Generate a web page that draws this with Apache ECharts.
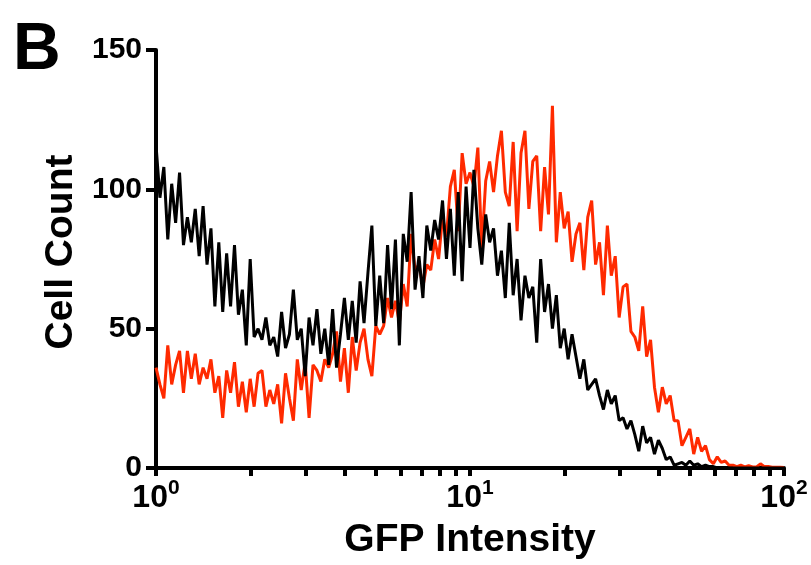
<!DOCTYPE html>
<html>
<head>
<meta charset="utf-8">
<script src="https://cdn.jsdelivr.net/npm/echarts@6/dist/echarts.min.js"></script>
<style>
html,body{margin:0;padding:0;background:#fff;}
#chart{width:811px;height:565px;}
</style>
</head>
<body>
<div id="chart"></div>
<script>
// Histogram channels: 80 channels per decade, from 10^0 to 10^2 (x axis is log10 of GFP intensity)
const channelsPerDecade = 80;

// Black histogram (cell counts per channel)
const blackCounts = [
  116, 97, 108, 82, 102, 88, 106, 80, 90, 81,
  93, 76, 94, 73, 86, 58, 81, 56, 77, 58,
  80, 55, 64, 44, 75, 47, 50, 46, 54, 44,
  47, 40, 56, 43, 48, 64, 46, 50, 33, 54,
  44, 57, 41, 50, 37, 57, 36, 48, 61, 46,
  60, 45, 67, 52, 70, 87, 51, 69, 52, 80,
  57, 82, 44, 84, 74, 99, 64, 76, 61, 87,
  78, 89, 82, 96, 75, 93, 69, 99, 67, 101,
  79, 107, 86, 73, 91, 81, 86, 69, 78, 61,
  88, 62, 75, 53, 69, 61, 65, 45, 75, 56,
  66, 50, 62, 43, 50, 39, 48, 40, 32, 39,
  28, 30, 32, 26, 21, 28, 23, 26, 17, 18,
  14, 17, 12, 6, 15, 9, 11, 5, 10, 7,
  3, 4, 1, 1.5, 2, 1, 2.5, 1, 1.5, 0.5,
  1, 0.5, 0.5, 0, 0, 0, 0, 0, 0, 0,
  0, 0, 0, 0, 0, 0, 0, 0, 0, 0,
  0
];

// Red histogram (cell counts per channel)
const redCounts = [
  36, 30, 25, 44, 30, 37, 42, 27, 42, 32,
  41, 30, 36, 32, 39, 27, 33, 18, 35, 27,
  38, 22, 31, 20, 32, 22, 34, 35, 22, 28,
  23, 30, 16, 34, 25, 17, 39, 28, 38, 18,
  37, 35, 31, 39, 36, 41, 49, 31, 43, 27,
  47, 35, 45, 50, 39, 33, 51, 48, 51, 61,
  54, 60, 52, 66, 58, 84, 71, 73, 65, 73,
  71, 82, 75, 90, 83, 101, 107, 85, 113, 102,
  106, 101, 115, 79, 103, 110, 99, 112, 121, 99,
  94, 117, 85, 113, 121, 93, 110, 112, 85, 108,
  91, 130, 81, 99, 86, 92, 74, 84, 88, 71,
  90, 96, 73, 81, 62, 87, 69, 76, 54, 65,
  66, 49, 47, 42, 58, 40, 46, 29, 20, 29,
  23, 26, 17, 17, 8, 11, 14, 5, 11, 6,
  8, 3, 1.5, 4, 2, 2.5, 1, 1, 0.5, 1,
  0.4, 0.8, 0.4, 0.4, 1.5, 0.5, 0.5, 0.3, 0.3, 0.3,
  0.2
];

// Tick positions (GFP intensity) and labelled decades
const xTickIntensities = [1, 2, 3, 4, 5, 6, 7, 8, 9, 10, 20, 30, 40, 50, 60, 70, 80, 90, 100];
const xLabelExponents = [0, 1, 2];
const yTicks = [0, 50, 100, 150];

const FONT = '"Liberation Sans", Arial, Helvetica, sans-serif';

function toPairs(counts) {
  return counts.map((c, i) => [i / channelsPerDecade, c]);
}

const chart = echarts.init(document.getElementById('chart'), null, {renderer: 'canvas'});
chart.setOption({
  animation: false,
  backgroundColor: '#ffffff',
  title: {
    text: 'B',
    left: 8,
    top: 13,
    textStyle: {fontFamily: FONT, fontWeight: 'bold', fontSize: 66, color: '#000'}
  },
  grid: {left: 156, right: 27, top: 50, bottom: 97, containLabel: false},
  xAxis: {
    type: 'value',
    min: 0,
    max: 2,
    interval: 1,
    name: 'GFP Intensity',
    nameLocation: 'middle',
    nameGap: 53,
    nameTextStyle: {fontFamily: FONT, fontWeight: 'bold', fontSize: 39, color: '#000'},
    axisLine: {show: true, onZero: false, lineStyle: {color: '#000', width: 4}},
    axisTick: {
      show: true, inside: false, length: 8,
      customValues: xTickIntensities.map(v => Math.log10(v)),
      lineStyle: {color: '#000', width: 4}
    },
    axisLabel: {
      show: true,
      margin: 10,
      customValues: xLabelExponents,
      formatter: function (v) {
        return '{b|10}{s|' + Math.round(v) + '}';
      },
      rich: {
        b: {fontFamily: FONT, fontWeight: 'bold', fontSize: 32, color: '#000', lineHeight: 36, verticalAlign: 'bottom'},
        s: {fontFamily: FONT, fontWeight: 'bold', fontSize: 21, color: '#000', lineHeight: 21, verticalAlign: 'top'}
      }
    },
    splitLine: {show: false},
    minorTick: {show: false}
  },
  yAxis: {
    type: 'value',
    min: yTicks[0],
    max: yTicks[yTicks.length - 1],
    interval: 50,
    name: 'Cell Count',
    nameLocation: 'middle',
    nameGap: 73,
    nameRotate: 90,
    nameTextStyle: {fontFamily: FONT, fontWeight: 'bold', fontSize: 39, color: '#000', padding: [0, 0, 0, 14]},
    axisLine: {show: true, lineStyle: {color: '#000', width: 4}},
    axisTick: {show: true, inside: false, length: 10, lineStyle: {color: '#000', width: 4}},
    axisLabel: {show: true, margin: 14, fontFamily: FONT, fontWeight: 'bold', fontSize: 30, color: '#000'},
    splitLine: {show: false}
  },
  series: [
    {
      name: 'Red',
      type: 'line',
      data: toPairs(redCounts),
      showSymbol: false,
      symbol: 'none',
      lineStyle: {color: '#ff2a00', width: 3},
      z: 3
    },
    {
      name: 'Black',
      type: 'line',
      data: toPairs(blackCounts),
      showSymbol: false,
      symbol: 'none',
      lineStyle: {color: '#000000', width: 3},
      z: 4
    }
  ]
});
</script>
</body>
</html>
